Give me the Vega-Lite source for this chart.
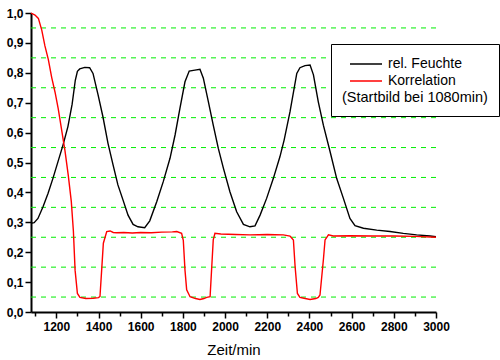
{
  "$schema": "https://vega.github.io/schema/vega-lite/v6.json",
  "width": 405,
  "height": 299,
  "autosize": {"type": "none"},
  "padding": {"left": 31, "top": 13, "right": 64, "bottom": 48},
  "background": "white",
  "config": {
    "view": {"stroke": null},
    "font": "Liberation Sans",
    "axisY": {
      "title": null,
      "values": [0, 0.05, 0.1, 0.15, 0.2, 0.25, 0.3, 0.35, 0.4, 0.45, 0.5, 0.55, 0.6, 0.65, 0.7, 0.75, 0.8, 0.85, 0.9, 0.95, 1.0],
      "labelExpr": "round(datum.value * 20) % 2 === 0 ? replace(format(datum.value, '.1f'), '.', ',') : ''",
      "labelFont": "Liberation Sans",
      "labelFontSize": 12,
      "labelFontWeight": "bold",
      "labelColor": "black",
      "labelPadding": 2,
      "labelFlush": false,
      "labelOverlap": false,
      "tickSize": {"condition": {"test": "round(datum.value * 20) % 2 === 0", "value": 6}, "value": 4},
      "tickColor": "black",
      "tickWidth": 1.5,
      "domainColor": "black",
      "domainWidth": 2,
      "grid": false
    },
    "legend": {
      "orient": "none",
      "legendX": 300,
      "legendY": 31,
      "strokeColor": "black",
      "fillColor": "white",
      "padding": 11,
      "rowPadding": 1,
      "symbolType": "M-2,0H2",
      "symbolSize": 256,
      "symbolStrokeWidth": 1.5,
      "symbolOffset": 15,
      "labelFont": "Liberation Sans",
      "labelFontSize": 14,
      "labelColor": "black",
      "labelOffset": 13,
      "titleOrient": "bottom",
      "titleFont": "Liberation Sans",
      "titleFontSize": 14.5,
      "titleFontWeight": "normal",
      "titleColor": "black",
      "titlePadding": 3
    }
  },
  "datasets": {
    "grid": [
      {"g": 0.05}, {"g": 0.15}, {"g": 0.25}, {"g": 0.35}, {"g": 0.45},
      {"g": 0.55}, {"g": 0.65}, {"g": 0.75}, {"g": 0.85}, {"g": 0.95}
    ]
  },
  "layer": [
    {
      "data": {"name": "grid"},
      "mark": {"type": "rule", "color": "#00ee00", "strokeDash": [5, 5], "strokeWidth": 1},
      "encoding": {
        "y": {"field": "g", "type": "quantitative", "scale": {"domain": [0, 1], "nice": false}, "title": null}
      }
    },
    {
      "data": {
        "values": [
          {"t": 1080, "v": 0.297, "s": "rel. Feuchte"},
          {"t": 1095, "v": 0.299, "s": "rel. Feuchte"},
          {"t": 1113, "v": 0.313, "s": "rel. Feuchte"},
          {"t": 1137, "v": 0.352, "s": "rel. Feuchte"},
          {"t": 1161, "v": 0.397, "s": "rel. Feuchte"},
          {"t": 1184, "v": 0.447, "s": "rel. Feuchte"},
          {"t": 1208, "v": 0.503, "s": "rel. Feuchte"},
          {"t": 1232, "v": 0.559, "s": "rel. Feuchte"},
          {"t": 1255, "v": 0.62, "s": "rel. Feuchte"},
          {"t": 1275, "v": 0.695, "s": "rel. Feuchte"},
          {"t": 1290, "v": 0.775, "s": "rel. Feuchte"},
          {"t": 1300, "v": 0.805, "s": "rel. Feuchte"},
          {"t": 1311, "v": 0.813, "s": "rel. Feuchte"},
          {"t": 1335, "v": 0.818, "s": "rel. Feuchte"},
          {"t": 1358, "v": 0.817, "s": "rel. Feuchte"},
          {"t": 1374, "v": 0.798, "s": "rel. Feuchte"},
          {"t": 1398, "v": 0.726, "s": "rel. Feuchte"},
          {"t": 1421, "v": 0.653, "s": "rel. Feuchte"},
          {"t": 1445, "v": 0.564, "s": "rel. Feuchte"},
          {"t": 1469, "v": 0.492, "s": "rel. Feuchte"},
          {"t": 1492, "v": 0.425, "s": "rel. Feuchte"},
          {"t": 1516, "v": 0.375, "s": "rel. Feuchte"},
          {"t": 1540, "v": 0.324, "s": "rel. Feuchte"},
          {"t": 1564, "v": 0.293, "s": "rel. Feuchte"},
          {"t": 1587, "v": 0.285, "s": "rel. Feuchte"},
          {"t": 1619, "v": 0.282, "s": "rel. Feuchte"},
          {"t": 1643, "v": 0.305, "s": "rel. Feuchte"},
          {"t": 1676, "v": 0.369, "s": "rel. Feuchte"},
          {"t": 1707, "v": 0.436, "s": "rel. Feuchte"},
          {"t": 1739, "v": 0.514, "s": "rel. Feuchte"},
          {"t": 1763, "v": 0.592, "s": "rel. Feuchte"},
          {"t": 1786, "v": 0.681, "s": "rel. Feuchte"},
          {"t": 1810, "v": 0.77, "s": "rel. Feuchte"},
          {"t": 1830, "v": 0.806, "s": "rel. Feuchte"},
          {"t": 1857, "v": 0.809, "s": "rel. Feuchte"},
          {"t": 1881, "v": 0.812, "s": "rel. Feuchte"},
          {"t": 1897, "v": 0.782, "s": "rel. Feuchte"},
          {"t": 1921, "v": 0.703, "s": "rel. Feuchte"},
          {"t": 1944, "v": 0.625, "s": "rel. Feuchte"},
          {"t": 1968, "v": 0.547, "s": "rel. Feuchte"},
          {"t": 1992, "v": 0.481, "s": "rel. Feuchte"},
          {"t": 2023, "v": 0.402, "s": "rel. Feuchte"},
          {"t": 2055, "v": 0.335, "s": "rel. Feuchte"},
          {"t": 2087, "v": 0.293, "s": "rel. Feuchte"},
          {"t": 2118, "v": 0.285, "s": "rel. Feuchte"},
          {"t": 2142, "v": 0.288, "s": "rel. Feuchte"},
          {"t": 2166, "v": 0.324, "s": "rel. Feuchte"},
          {"t": 2197, "v": 0.38, "s": "rel. Feuchte"},
          {"t": 2229, "v": 0.447, "s": "rel. Feuchte"},
          {"t": 2260, "v": 0.519, "s": "rel. Feuchte"},
          {"t": 2280, "v": 0.575, "s": "rel. Feuchte"},
          {"t": 2308, "v": 0.67, "s": "rel. Feuchte"},
          {"t": 2340, "v": 0.798, "s": "rel. Feuchte"},
          {"t": 2355, "v": 0.817, "s": "rel. Feuchte"},
          {"t": 2379, "v": 0.824, "s": "rel. Feuchte"},
          {"t": 2403, "v": 0.826, "s": "rel. Feuchte"},
          {"t": 2419, "v": 0.793, "s": "rel. Feuchte"},
          {"t": 2442, "v": 0.703, "s": "rel. Feuchte"},
          {"t": 2466, "v": 0.625, "s": "rel. Feuchte"},
          {"t": 2498, "v": 0.536, "s": "rel. Feuchte"},
          {"t": 2529, "v": 0.447, "s": "rel. Feuchte"},
          {"t": 2561, "v": 0.38, "s": "rel. Feuchte"},
          {"t": 2592, "v": 0.313, "s": "rel. Feuchte"},
          {"t": 2616, "v": 0.289, "s": "rel. Feuchte"},
          {"t": 2656, "v": 0.28, "s": "rel. Feuchte"},
          {"t": 2719, "v": 0.274, "s": "rel. Feuchte"},
          {"t": 2782, "v": 0.269, "s": "rel. Feuchte"},
          {"t": 2845, "v": 0.263, "s": "rel. Feuchte"},
          {"t": 2908, "v": 0.258, "s": "rel. Feuchte"},
          {"t": 2972, "v": 0.254, "s": "rel. Feuchte"},
          {"t": 3000, "v": 0.252, "s": "rel. Feuchte"},
          {"t": 1080, "v": 1.0, "s": "Korrelation"},
          {"t": 1099, "v": 0.993, "s": "Korrelation"},
          {"t": 1115, "v": 0.982, "s": "Korrelation"},
          {"t": 1131, "v": 0.943, "s": "Korrelation"},
          {"t": 1146, "v": 0.89, "s": "Korrelation"},
          {"t": 1162, "v": 0.845, "s": "Korrelation"},
          {"t": 1178, "v": 0.785, "s": "Korrelation"},
          {"t": 1194, "v": 0.735, "s": "Korrelation"},
          {"t": 1209, "v": 0.68, "s": "Korrelation"},
          {"t": 1225, "v": 0.61, "s": "Korrelation"},
          {"t": 1241, "v": 0.54, "s": "Korrelation"},
          {"t": 1257, "v": 0.455, "s": "Korrelation"},
          {"t": 1271, "v": 0.37, "s": "Korrelation"},
          {"t": 1281, "v": 0.27, "s": "Korrelation"},
          {"t": 1289, "v": 0.14, "s": "Korrelation"},
          {"t": 1300, "v": 0.062, "s": "Korrelation"},
          {"t": 1312, "v": 0.049, "s": "Korrelation"},
          {"t": 1340, "v": 0.045, "s": "Korrelation"},
          {"t": 1375, "v": 0.046, "s": "Korrelation"},
          {"t": 1400, "v": 0.048, "s": "Korrelation"},
          {"t": 1407, "v": 0.052, "s": "Korrelation"},
          {"t": 1415, "v": 0.14, "s": "Korrelation"},
          {"t": 1423, "v": 0.23, "s": "Korrelation"},
          {"t": 1439, "v": 0.269, "s": "Korrelation"},
          {"t": 1455, "v": 0.271, "s": "Korrelation"},
          {"t": 1470, "v": 0.266, "s": "Korrelation"},
          {"t": 1486, "v": 0.265, "s": "Korrelation"},
          {"t": 1520, "v": 0.266, "s": "Korrelation"},
          {"t": 1560, "v": 0.264, "s": "Korrelation"},
          {"t": 1600, "v": 0.266, "s": "Korrelation"},
          {"t": 1650, "v": 0.265, "s": "Korrelation"},
          {"t": 1700, "v": 0.267, "s": "Korrelation"},
          {"t": 1750, "v": 0.268, "s": "Korrelation"},
          {"t": 1771, "v": 0.269, "s": "Korrelation"},
          {"t": 1794, "v": 0.263, "s": "Korrelation"},
          {"t": 1802, "v": 0.24, "s": "Korrelation"},
          {"t": 1810, "v": 0.14, "s": "Korrelation"},
          {"t": 1818, "v": 0.074, "s": "Korrelation"},
          {"t": 1834, "v": 0.051, "s": "Korrelation"},
          {"t": 1860, "v": 0.045, "s": "Korrelation"},
          {"t": 1881, "v": 0.042, "s": "Korrelation"},
          {"t": 1900, "v": 0.045, "s": "Korrelation"},
          {"t": 1913, "v": 0.049, "s": "Korrelation"},
          {"t": 1929, "v": 0.051, "s": "Korrelation"},
          {"t": 1937, "v": 0.152, "s": "Korrelation"},
          {"t": 1944, "v": 0.241, "s": "Korrelation"},
          {"t": 1952, "v": 0.263, "s": "Korrelation"},
          {"t": 1980, "v": 0.261, "s": "Korrelation"},
          {"t": 2050, "v": 0.259, "s": "Korrelation"},
          {"t": 2118, "v": 0.258, "s": "Korrelation"},
          {"t": 2200, "v": 0.259, "s": "Korrelation"},
          {"t": 2276, "v": 0.258, "s": "Korrelation"},
          {"t": 2308, "v": 0.254, "s": "Korrelation"},
          {"t": 2324, "v": 0.241, "s": "Korrelation"},
          {"t": 2332, "v": 0.152, "s": "Korrelation"},
          {"t": 2343, "v": 0.062, "s": "Korrelation"},
          {"t": 2355, "v": 0.049, "s": "Korrelation"},
          {"t": 2380, "v": 0.045, "s": "Korrelation"},
          {"t": 2403, "v": 0.042, "s": "Korrelation"},
          {"t": 2430, "v": 0.045, "s": "Korrelation"},
          {"t": 2442, "v": 0.049, "s": "Korrelation"},
          {"t": 2450, "v": 0.057, "s": "Korrelation"},
          {"t": 2466, "v": 0.174, "s": "Korrelation"},
          {"t": 2474, "v": 0.241, "s": "Korrelation"},
          {"t": 2490, "v": 0.258, "s": "Korrelation"},
          {"t": 2513, "v": 0.254, "s": "Korrelation"},
          {"t": 2592, "v": 0.255, "s": "Korrelation"},
          {"t": 2700, "v": 0.254, "s": "Korrelation"},
          {"t": 2800, "v": 0.254, "s": "Korrelation"},
          {"t": 2900, "v": 0.253, "s": "Korrelation"},
          {"t": 3000, "v": 0.25, "s": "Korrelation"}
        ]
      },
      "mark": {"type": "line", "strokeWidth": 1.4},
      "encoding": {
        "x": {
          "field": "t",
          "type": "quantitative",
          "scale": {"domain": [1080, 3000], "nice": false, "zero": false},
          "axis": {
            "title": "Zeit/min",
            "titleFont": "Liberation Sans",
            "titleFontSize": 15,
            "titleFontWeight": "normal",
            "titleColor": "black",
            "titlePadding": 10,
            "values": [1100, 1200, 1300, 1400, 1500, 1600, 1700, 1800, 1900, 2000, 2100, 2200, 2300, 2400, 2500, 2600, 2700, 2800, 2900, 3000],
            "format": "d",
            "labelExpr": "datum.value % 200 === 0 ? datum.label : ''",
            "labelFont": "Liberation Sans",
            "labelFontSize": 12,
            "labelFontWeight": "bold",
            "labelColor": "black",
            "labelPadding": 3,
            "labelFlush": false,
            "labelOverlap": false,
            "tickSize": {"condition": {"test": "datum.value % 200 === 0", "value": 6}, "value": 4},
            "tickColor": "black",
            "tickWidth": 1.5,
            "domainColor": "black",
            "domainWidth": 2,
            "grid": false
          }
        },
        "y": {
          "field": "v",
          "type": "quantitative",
          "scale": {"domain": [0, 1], "nice": false},
          "title": null
        },
        "color": {
          "field": "s",
          "type": "nominal",
          "scale": {"domain": ["rel. Feuchte", "Korrelation"], "range": ["#000000", "#ff0000"]},
          "legend": {"title": "(Startbild bei 1080min)"}
        }
      }
    }
  ]
}
